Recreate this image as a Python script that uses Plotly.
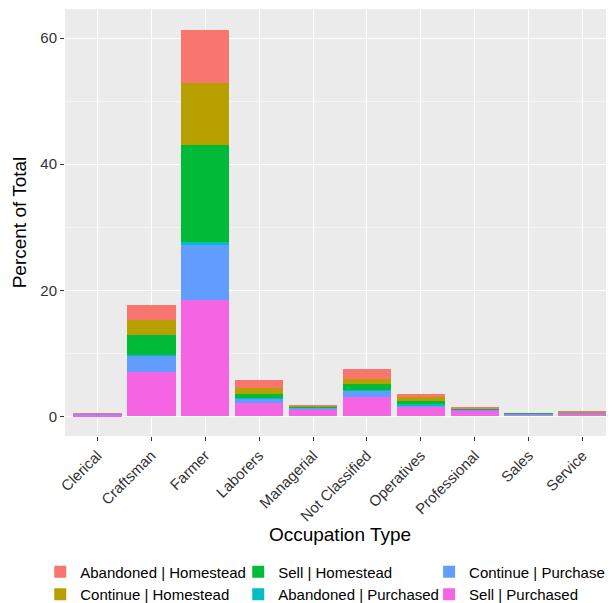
import plotly.graph_objects as go

cats = ["Clerical","Craftsman","Farmer","Laborers","Managerial","Not Classified","Operatives","Professional","Sales","Service"]
sell_pur = [0.3, 7.0, 18.4, 2.2, 1.06, 3.07, 1.5, 0.95, 0.35, 0.5]
cont_pur = [0.1, 2.7, 8.8, 0.65, 0.32, 1.0, 0.3, 0.1, 0.1, 0.1]
aban_pur = [0.02, 0.1, 0.5, 0.05, 0.05, 0.1, 0.1, 0.05, 0.02, 0.02]
sell_home = [0.05, 3.1, 15.4, 0.7, 0.12, 0.9, 0.55, 0.1, 0.03, 0.08]
cont_home = [0.02, 2.4, 9.8, 0.85, 0.15, 0.8, 0.6, 0.1, 0.0, 0.05]
aban_home = [0.01, 2.3, 8.4, 1.3, 0.1, 1.6, 0.45, 0.1, 0.0, 0.05]

# (name, values, colour, legend, rank)
series = [
    ("Sell | Purchased", sell_pur, "#F564E3", "legend3", 2),
    ("Continue | Purchase", cont_pur, "#619CFF", "legend3", 1),
    ("Abandoned | Purchased", aban_pur, "#00BFC4", "legend2", 2),
    ("Sell | Homestead", sell_home, "#00BA38", "legend2", 1),
    ("Continue | Homestead", cont_home, "#B79F00", "legend", 2),
    ("Abandoned | Homestead", aban_home, "#F8766D", "legend", 1),
]

fig = go.Figure()
for name, vals, col, lg, rank in series:
    fig.add_bar(x=cats, y=vals, name=name, marker=dict(color=col, line=dict(width=0)),
                legend=lg, legendrank=rank)

def leg(x):
    return dict(orientation="v", x=x, xanchor="left", y=-0.28, yanchor="top",
                traceorder="normal", font=dict(size=15), tracegroupgap=0,
                itemwidth=30, bgcolor="rgba(0,0,0,0)")

fig.update_layout(
    barmode="stack", bargap=0.1,
    width=614, height=603,
    paper_bgcolor="white", plot_bgcolor="#EBEBEB",
    margin=dict(l=57, r=7, t=1, b=173),
    font=dict(family="Liberation Sans, Arial", size=15, color="black"),
    legend=leg(-0.045),
    legend2=leg(0.315),
    legend3=leg(0.662),
)
fig.update_xaxes(title=dict(text="Occupation Type", font=dict(size=19), standoff=2), tickangle=-45,
                 automargin=False,
                 showgrid=True, gridcolor="white", gridwidth=1.2,
                 tickfont=dict(size=15, color="#333333"), ticks="outside", ticklen=4,
                 tickcolor="#333333", range=[-0.6, 9.6])
fig.update_yaxes(title=dict(text="Percent of Total", font=dict(size=19), standoff=8),
                 automargin=False,
                 range=[-3.1, 64.6], tickvals=[0, 20, 40, 60],
                 showgrid=True, gridcolor="white", gridwidth=1.2, zeroline=False,
                 minor=dict(tickvals=[10, 30, 50], showgrid=True, gridcolor="#F5F5F5", gridwidth=0.6),
                 tickfont=dict(size=15, color="#333333"), ticks="outside", ticklen=4,
                 tickcolor="#333333")
fig.write_html("out.html")
